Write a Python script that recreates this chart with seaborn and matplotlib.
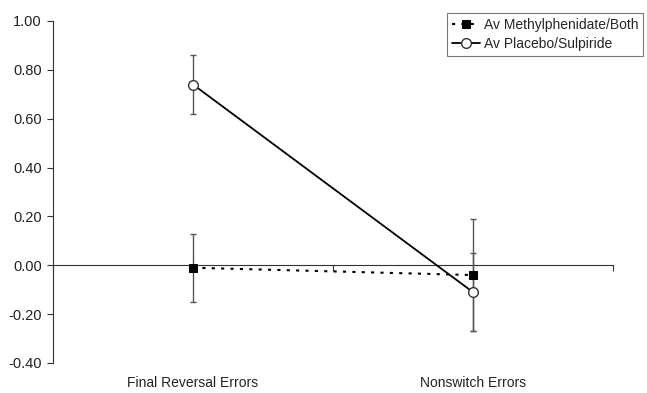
import numpy as np
import pandas as pd
import matplotlib
matplotlib.use("Agg")
import matplotlib.pyplot as plt
import seaborn as sns

# data
categories = ["Final Reversal Errors", "Nonswitch Errors"]
methyl_mean = [-0.01, -0.04]
methyl_err = [0.14, 0.23]
placebo_mean = [0.74, -0.11]
placebo_err = [0.12, 0.16]
series_names = ["Av Methylphenidate/Both", "Av Placebo/Sulpiride"]

sns.set_style("white")
plt.rcParams["font.family"] = ["Liberation Sans", "DejaVu Sans"]
plt.rcParams["axes.unicode_minus"] = False

xpos = np.arange(len(categories)) + 0.5
df = pd.DataFrame({
    "x": np.concatenate([xpos, xpos]),
    "y": methyl_mean + placebo_mean,
    "series": [series_names[0]] * 2 + [series_names[1]] * 2,
})

fig = plt.figure(figsize=(6.47, 3.93), dpi=100)
ax = fig.add_axes([53 / 647, 1 - 363 / 393, (613 - 53) / 647, (363 - 21) / 393])

# error bars first so markers sit on top
ax.errorbar(xpos, methyl_mean, yerr=methyl_err, fmt="none", ecolor="#555555",
            elinewidth=1.0, capsize=2.5, capthick=1.0, zorder=2)
ax.errorbar(xpos, placebo_mean, yerr=placebo_err, fmt="none", ecolor="#555555",
            elinewidth=1.0, capsize=2.5, capthick=1.0, zorder=2)

sns.lineplot(data=df[df.series == series_names[0]], x="x", y="y", ax=ax,
             color="black", linestyle=(0, (1.5, 3)), linewidth=1.5,
             marker="s", markersize=6, markerfacecolor="black",
             markeredgecolor="black", label=series_names[0], zorder=3)
sns.lineplot(data=df[df.series == series_names[1]], x="x", y="y", ax=ax,
             color="black", linestyle="-", linewidth=1.3,
             marker="o", markersize=7, markerfacecolor="white",
             markeredgecolor="#333333", markeredgewidth=1.0,
             label=series_names[1], zorder=3)

ymin, ymax = -0.40, 1.00
ax.set_xlim(0, 2)
ax.set_ylim(ymin, ymax)
ax.set_yticks(np.arange(-0.4, 1.01, 0.2))
ax.yaxis.set_major_formatter(matplotlib.ticker.FormatStrFormatter("%.2f"))
ax.tick_params(axis="y", left=True, length=4, width=0.8, color="#333333",
               labelsize=10.5, labelcolor="#222222", pad=4)

ax.set_xticks(xpos)
ax.set_xticklabels(categories)
ax.tick_params(axis="x", bottom=False, labelsize=10, labelcolor="#222222", pad=6)
ax.set_xlabel("")
ax.set_ylabel("")

for s in ["top", "right", "bottom"]:
    ax.spines[s].set_visible(False)
ax.spines["left"].set_color("#333333")
ax.spines["left"].set_linewidth(0.8)

# zero line with category dividers
zax = ax.secondary_xaxis((0 - ymin) / (ymax - ymin))
zax.set_xticks([0, 1, 2])
zax.set_xticklabels([])
zax.tick_params(length=4, width=0.8, color="#333333")
zax.spines["bottom"].set_color("#333333")
zax.spines["bottom"].set_linewidth(0.8)

ax.legend_.remove()
handles, labels = ax.get_legend_handles_labels()
leg = fig.legend(handles, labels, loc="upper left",
                 bbox_to_anchor=(447 / 647, 1 - 13 / 393),
                 fontsize=10, frameon=True, fancybox=False, handlelength=2.0,
                 handletextpad=0.3, borderpad=0.35, labelspacing=0.35,
                 borderaxespad=0)
leg.get_frame().set_edgecolor("#555555")
leg.get_frame().set_linewidth(0.8)

fig.savefig("out.png", dpi=100)
